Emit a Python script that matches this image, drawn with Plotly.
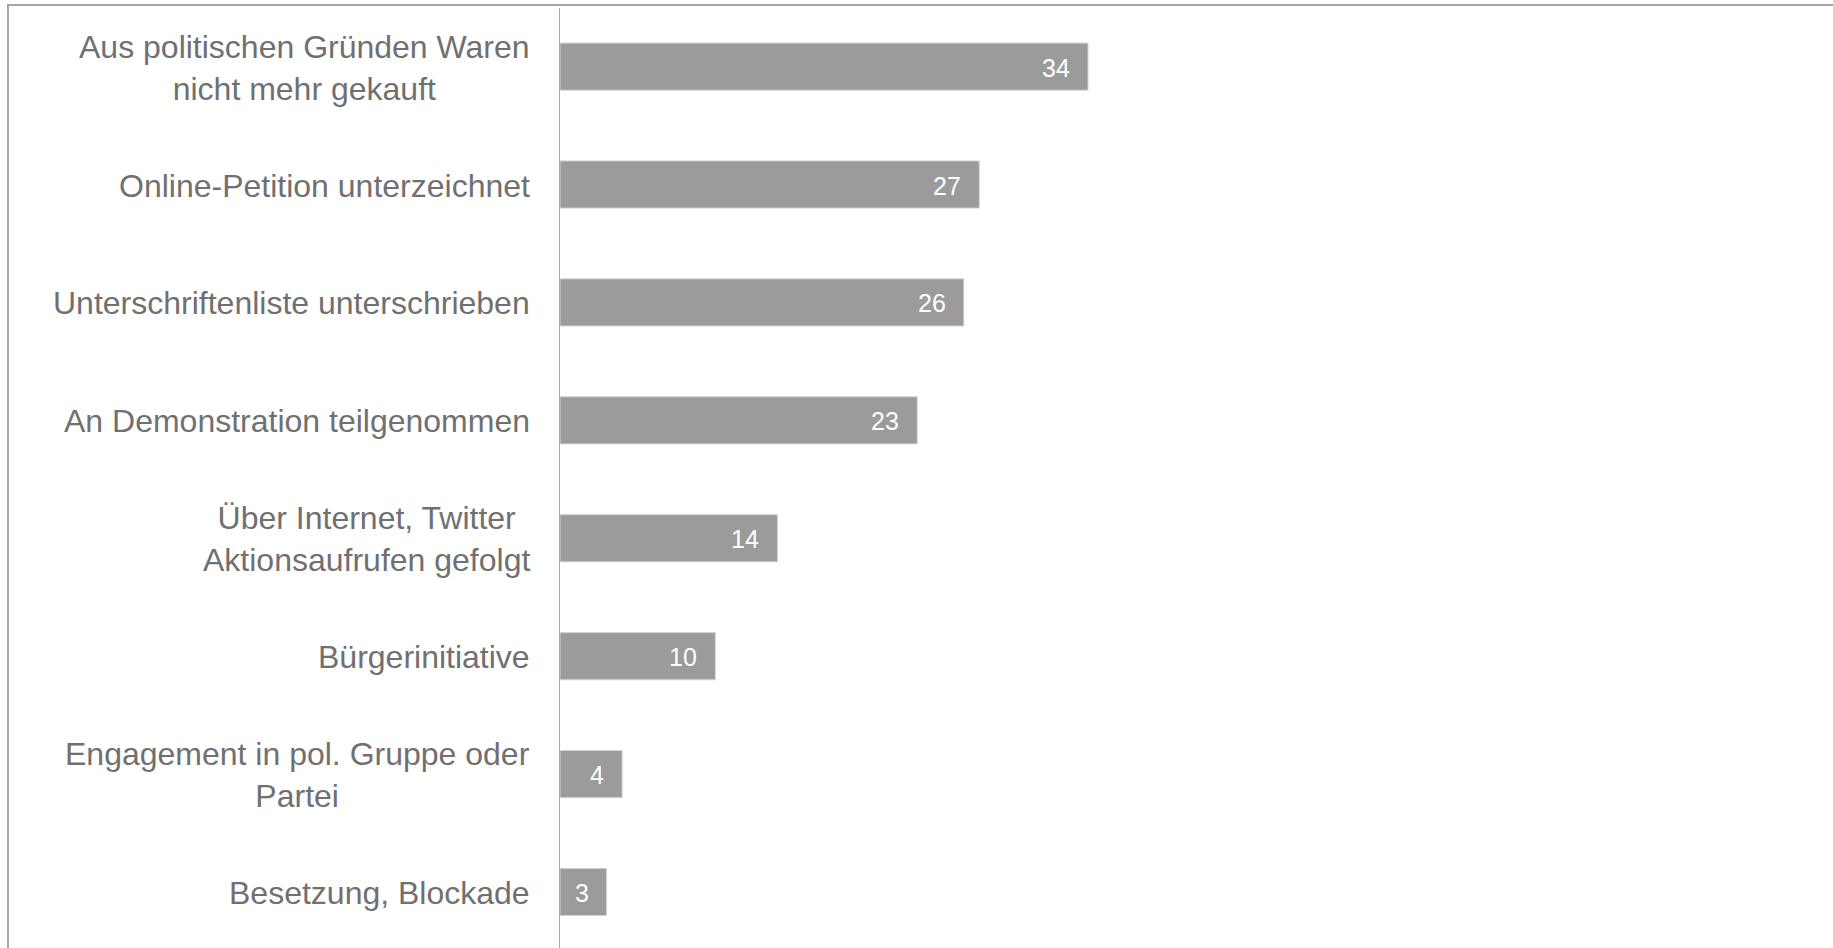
import plotly.graph_objects as go

# Share of respondents (%) per form of political participation
categories = [
    "Aus politischen Gründen Waren<br>nicht mehr gekauft",
    "Online-Petition unterzeichnet",
    "Unterschriftenliste unterschrieben",
    "An Demonstration teilgenommen",
    "Über Internet, Twitter<br>Aktionsaufrufen gefolgt",
    "Bürgerinitiative",
    "Engagement in pol. Gruppe oder<br>Partei",
    "Besetzung, Blockade",
]
values = [34, 27, 26, 23, 14, 10, 4, 3]

BAR_COLOR = "#9b9b9b"
TEXT_COLOR = "#707070"
FRAME_COLOR = "#a6a6a6"
FONT = "Liberation Sans, Arial, sans-serif"

W, H = 1833, 948
ML, MT = 560, 8

fig = go.Figure(
    go.Bar(
        x=values,
        y=categories,
        orientation="h",
        width=0.4,
        marker=dict(color=BAR_COLOR, line=dict(color="#d4d4d4", width=1)),
        hoverinfo="x+y",
    )
)

# category labels, centred line by line, right-aligned against the axis
for cat in categories:
    fig.add_annotation(
        x=0, y=cat, xref="x", yref="y",
        text=cat, showarrow=False,
        xanchor="right", yanchor="middle", align="center",
        xshift=-28, yshift=-1,
        font=dict(family=FONT, size=32, color=TEXT_COLOR),
    )

# value labels inside the bar ends
for cat, v in zip(categories, values):
    fig.add_annotation(
        x=v, y=cat, xref="x", yref="y",
        text=str(v), showarrow=False,
        xanchor="right", yanchor="middle",
        xshift=-16, yshift=-1,
        font=dict(family=FONT, size=25, color="white"),
    )

# outer frame (top and left edges visible)
fig.add_shape(
    type="rect", xref="paper", yref="paper",
    x0=(8 - ML) / (W - ML), x1=1.05,
    y0=-0.05, y1=(H - 5) / (H - MT),
    line=dict(color=FRAME_COLOR, width=2),
    fillcolor="rgba(0,0,0,0)", layer="below",
)

fig.update_layout(
    width=W, height=H,
    margin=dict(l=ML, r=0, t=MT, b=0, pad=0),
    paper_bgcolor="white", plot_bgcolor="white",
    showlegend=False,
    font=dict(family=FONT, color=TEXT_COLOR),
    xaxis=dict(
        range=[0, (W - ML) / 15.53],
        visible=False, showgrid=False, zeroline=False, fixedrange=True,
    ),
    yaxis=dict(
        range=[7.475, -0.497],
        showticklabels=False, ticks="",
        showline=True, linecolor="#a8a8a8", linewidth=1,
        showgrid=False, zeroline=False, fixedrange=True,
    ),
)

fig.write_html("out.html")
